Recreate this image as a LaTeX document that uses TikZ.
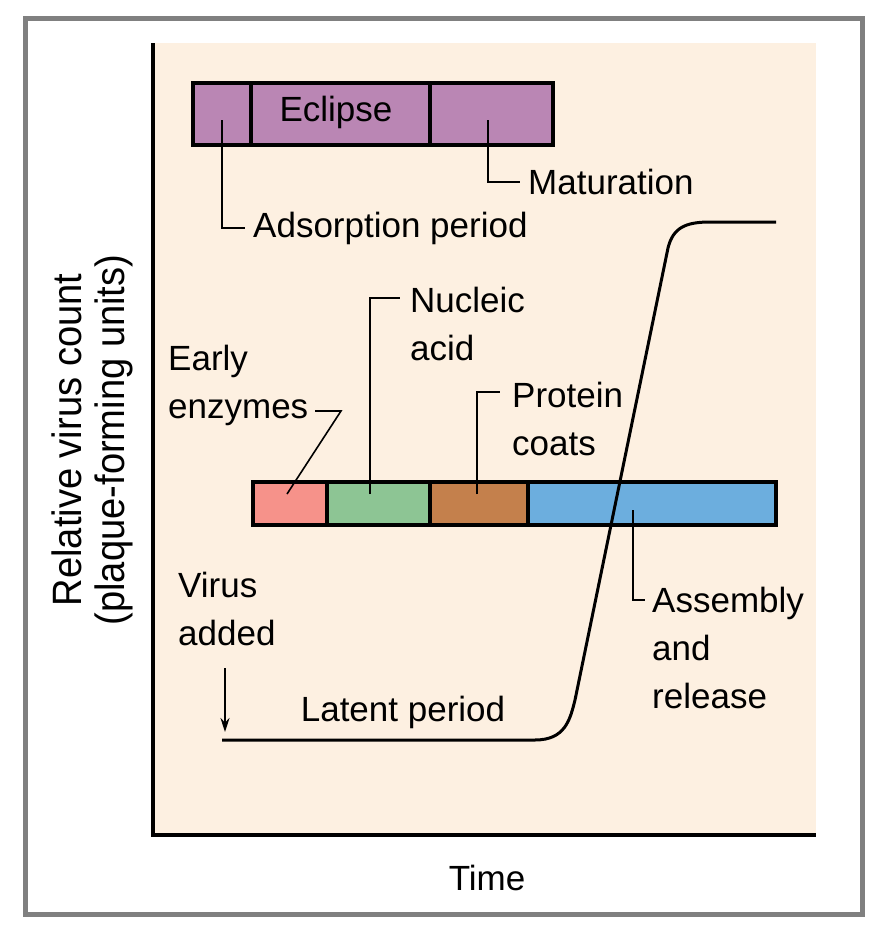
\documentclass[tikz,border=0pt]{standalone}
\usepackage{fontspec}
\setmainfont{Liberation Sans}
\usetikzlibrary{positioning, arrows.meta}
\definecolor{beige}{RGB}{253,240,225}
\definecolor{eclipsepurple}{RGB}{186,134,180}
\definecolor{enzpink}{RGB}{246,146,138}
\definecolor{nucgreen}{RGB}{141,197,148}
\definecolor{protbrown}{RGB}{196,128,76}
\definecolor{assblue}{RGB}{108,174,222}
\tikzset{
  lbl/.style={font=\fontsize{35}{48}\selectfont, inner sep=0pt, align=left},
  seg/.style={draw, line width=4pt},
  leader/.style={line width=1.6pt},
}
\begin{document}
\begin{tikzpicture}[x=1pt, y=-1pt]
    \useasboundingbox (0,0) rectangle (883,940);
    \draw[gray, line width=5pt] (25,18) rectangle (862,914);
    \fill[beige] (153,43) rectangle (816,835);

    % axes
    \draw[line width=4pt] (153,43) -- (153,835) -- (816,835);
    \node[lbl] (time) at (487,878) {Time};
    \node[lbl, rotate=90, align=center, font=\fontsize{41}{43}\selectfont\addfontfeature{FakeStretch=0.93}] (ylab) at (92,440) {Relative virus count\\(plaque-forming units)};

    % eclipse bar
    \fill[eclipsepurple] (193,83) rectangle (553,145);
    \draw[seg] (193,83) rectangle (553,145);
    \draw[seg] (251,83) -- (251,145);
    \draw[seg] (430,83) -- (430,145);
    \node[lbl] (eclipse) at (336,112) {Eclipse};
    \node[lbl, anchor=west] (adsorp) at (253,228) {Adsorption period};
    \node[lbl, anchor=west] (matur) at (528,182) {Maturation};
    \draw[leader] (222,120) |- ([xshift=-8pt]adsorp.west);
    \draw[leader] (488,120) |- ([xshift=-8pt]matur.west);

    % lower bar
    \fill[enzpink] (253,482) rectangle (327,525);
    \fill[nucgreen] (327,482) rectangle (430,525);
    \fill[protbrown] (430,482) rectangle (528,525);
    \fill[assblue] (528,482) rectangle (776,525);
    \draw[seg] (253,482) rectangle (776,525);
    \foreach \x in {327,430,528} \draw[seg] (\x,482) -- (\x,525);

    \node[lbl, anchor=west] (early) at (168,385) {Early\\enzymes};
    \node[lbl, anchor=west] (nucleic) at (410,324) {Nucleic\\acid};
    \node[lbl, anchor=west] (protein) at (512,419) {Protein\\coats};
    \node[lbl, anchor=west] (assembly) at (652,648) {Assembly\\and\\release};
    \coordinate (e1) at (315,411);
    \coordinate (e2) at (341,411);
    \draw[leader] (287,494) -- (e2) -- (e1);
    \draw[leader] (370,494) |- (400,298);
    \draw[leader] (477,494) |- (500,392);
    \draw[leader] (633,510) |- (645,600);

    % growth curve
    \draw[line width=3pt] (222,740) -- (535,740)
        .. controls (565,740) and (570,720) .. (575,700)
        -- (668,248) .. controls (673,228) and (685,222) .. (710,222) -- (776,222);
    \node[lbl] (latent) at (403,712) {Latent period};
    \node[lbl, anchor=west] (virus) at (178,609) {Virus\\added};
    \coordinate (arrtip) at (225,732);
    \draw[line width=2pt, -{Stealth[length=14pt,width=9pt]}] (225,668) -- (arrtip);
\end{tikzpicture}
\end{document}
